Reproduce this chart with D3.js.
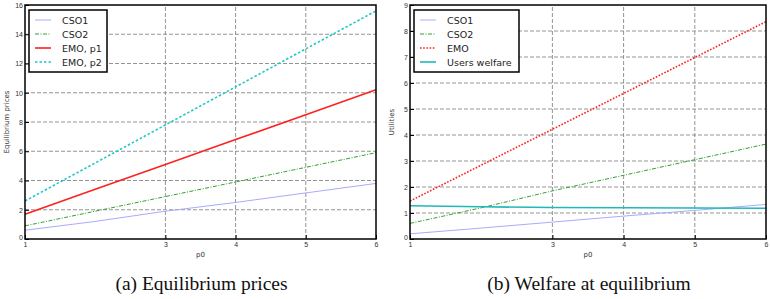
<!DOCTYPE html>
<meta charset="utf-8">
<style>
body { margin: 0; background: #fff; }
svg { font-family: "DejaVu Sans", sans-serif; }
.grid line { stroke: #888; stroke-dasharray: 4,2; stroke-width: 0.9; }
.tick text { font-size: 7px; fill: #333; }
.caption { font-family: "Liberation Serif", serif; font-size: 19.5px; fill: #111; }
</style>
<svg></svg>
<script src="https://d3js.org/d3.v7.min.js"></script>
<script>
// x values shared by every series
var p0 = [1, 2, 3, 4, 5, 6];
var xTicks = [1, 3, 4, 5, 6];

// (a) equilibrium prices
var pricesCSO1 = [0.6, 1.2, 1.9, 2.5, 3.15, 3.8];
var pricesCSO2 = [0.9, 1.9, 2.9, 3.9, 4.9, 5.9];
var pricesEMOp1 = [1.7, 3.4, 5.1, 6.8, 8.5, 10.2];
var pricesEMOp2 = [2.6, 5.2, 7.8, 10.4, 13.0, 15.6];
var pricesTicks = [0, 2, 4, 6, 8, 10, 12, 14, 16];

// (b) welfare
var welfCSO1 = [0.2, 0.42, 0.65, 0.88, 1.1, 1.33];
var welfCSO2 = [0.6, 1.2, 1.85, 2.45, 3.05, 3.65];
var welfEMO = [1.46, 2.84, 4.22, 5.6, 6.98, 8.36];
var welfUsers = [1.28, 1.24, 1.21, 1.2, 1.19, 1.18];
var welfTicks = [0, 1, 2, 3, 4, 5, 6, 7, 8, 9];

var svg = d3.select("svg").attr("width", 771).attr("height", 299);

function drawPanel(o) {
  var x = d3.scaleLinear().domain([1, 6]).range([o.left, o.right]),
      y = d3.scaleLinear().domain([0, o.ymax]).range([239, 5]);
  var g = svg.append("g");

  // grid
  var grid = g.append("g").attr("class", "grid");
  grid.selectAll(".gx").data(xTicks.slice(1, -1)).enter().append("line")
      .attr("x1", x).attr("x2", x).attr("y1", y(0)).attr("y2", y(o.ymax));
  grid.selectAll(".gy").data(o.yTicks.slice(1, -1)).enter().append("line")
      .attr("x1", o.left).attr("x2", o.right).attr("y1", y).attr("y2", y);

  // series
  var line = d3.line().x(function(d, i) { return x(p0[i]); }).y(function(d) { return y(d); });
  o.series.forEach(function(s) {
    g.append("path").datum(s.values)
        .attr("fill", "none")
        .attr("stroke", s.color)
        .attr("stroke-width", s.width)
        .attr("stroke-dasharray", s.dash)
        .attr("d", line);
  });

  // axes, ticks inward
  g.append("g").attr("transform", "translate(0," + y(0) + ")")
      .call(d3.axisBottom(x).tickValues(xTicks).tickFormat(d3.format("d")).tickSize(-4).tickPadding(3))
      .call(function(a) { a.select(".domain").remove(); });
  g.append("g").attr("transform", "translate(" + o.left + ",0)")
      .call(d3.axisLeft(y).tickValues(o.yTicks).tickSize(-4).tickPadding(2))
      .call(function(a) {
        a.select(".domain").remove();
        a.selectAll(".tick text").filter(function(d) { return d === 0; }).attr("dy", "0.05em");
      });
  g.selectAll(".tick line").attr("stroke", "#000");

  g.append("rect")
      .attr("x", o.left).attr("y", y(o.ymax))
      .attr("width", o.right - o.left).attr("height", y(0) - y(o.ymax))
      .attr("fill", "none").attr("stroke", "#000").attr("stroke-width", 1.5);

  // axis labels
  g.append("text").attr("x", (o.left + o.right) / 2).attr("y", 257)
      .attr("text-anchor", "middle").attr("font-size", 7).attr("fill", "#333").text("p0");
  g.append("text").attr("transform", "translate(" + (o.left - 16) + ",122) rotate(-90)")
      .attr("text-anchor", "middle").attr("font-size", 7).attr("fill", "#333").text(o.ylabel);

  // legend
  var lg = g.append("g").attr("transform", "translate(" + (o.left + 4) + ",10)");
  lg.append("rect").attr("width", o.legendW).attr("height", 62)
      .attr("fill", "#fff").attr("stroke", "#000").attr("stroke-width", 1.5);
  o.series.forEach(function(s, i) {
    var yy = 10 + i * 14;
    lg.append("line").attr("x1", 6).attr("x2", 22).attr("y1", yy).attr("y2", yy)
        .attr("stroke", s.color).attr("stroke-width", s.width).attr("stroke-dasharray", s.dash);
    lg.append("text").attr("x", 33).attr("y", yy + 3.5)
        .attr("font-size", 9.5).attr("fill", "#222").text(s.name);
  });

  svg.append("text").attr("class", "caption")
      .attr("x", (o.left + o.right) / 2 + 1).attr("y", 290)
      .attr("text-anchor", "middle").text(o.caption);
}

drawPanel({
  left: 25, right: 376, ymax: 16, yTicks: pricesTicks, ylabel: "Equilibrium prices",
  legendW: 78, caption: "(a) Equilibrium prices",
  series: [
    {name: "CSO1", values: pricesCSO1, color: "#aaaaff", width: 1, dash: null},
    {name: "CSO2", values: pricesCSO2, color: "#33a033", width: 1, dash: "4,1.5,1,1.5"},
    {name: "EMO, p1", values: pricesEMOp1, color: "#ff2020", width: 1.6, dash: null},
    {name: "EMO, p2", values: pricesEMOp2, color: "#20c8c8", width: 1.6, dash: "2.5,2"}
  ]
});

drawPanel({
  left: 410, right: 766, ymax: 9, yTicks: welfTicks, ylabel: "Utilities",
  legendW: 105, caption: "(b) Welfare at equilibrium",
  series: [
    {name: "CSO1", values: welfCSO1, color: "#aaaaff", width: 1, dash: null},
    {name: "CSO2", values: welfCSO2, color: "#33a033", width: 1, dash: "4,1.5,1,1.5"},
    {name: "EMO", values: welfEMO, color: "#ff2020", width: 1.6, dash: "1.6,1.6"},
    {name: "Users welfare", values: welfUsers, color: "#20b8b8", width: 1.6, dash: null}
  ]
});
</script>
